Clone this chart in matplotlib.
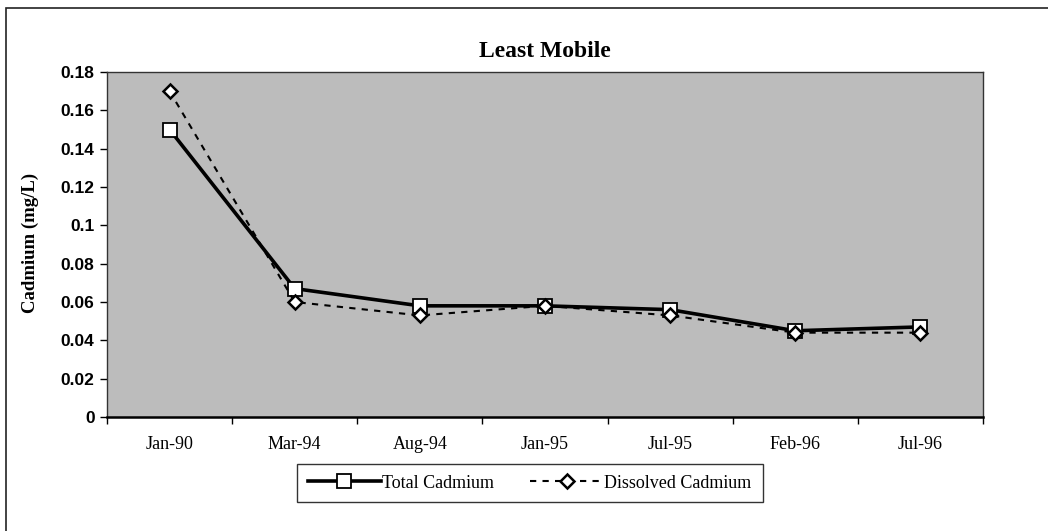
import matplotlib
matplotlib.use("Agg")
import matplotlib.pyplot as plt
from matplotlib.patches import Rectangle

categories = ["Jan-90", "Mar-94", "Aug-94", "Jan-95", "Jul-95", "Feb-96", "Jul-96"]
total_cd = [0.150, 0.067, 0.058, 0.058, 0.056, 0.045, 0.047]
dissolved_cd = [0.170, 0.060, 0.053, 0.058, 0.053, 0.044, 0.044]
yticks = [0, 0.02, 0.04, 0.06, 0.08, 0.1, 0.12, 0.14, 0.16, 0.18]
ytick_labels = ["0", "0.02", "0.04", "0.06", "0.08", "0.1", "0.12", "0.14", "0.16", "0.18"]

W, H = 1048, 531
fig = plt.figure(figsize=(W / 100, H / 100), dpi=100)
fig.patch.set_facecolor("white")

# outer frame
fig.patches.append(Rectangle((6 / W, -0.05), 1.2, 1 - 8 / H + 0.05,
                             transform=fig.transFigure, fill=False,
                             edgecolor="#222222", lw=1.2))

ax = fig.add_axes([107 / W, 1 - 417 / H, 876 / W, 345 / H])
ax.set_facecolor("#bcbcbc")

x = list(range(len(categories)))
ax.plot(x, total_cd, color="black", lw=2.6, marker="s", markersize=10,
        markerfacecolor="white", markeredgecolor="black", markeredgewidth=1.3,
        label="Total Cadmium", zorder=3)
ax.plot(x, dissolved_cd, color="black", lw=1.5, ls=(0, (3, 3)), marker="D",
        markersize=7.5, markerfacecolor="white", markeredgecolor="black",
        markeredgewidth=1.8, label="Dissolved Cadmium", zorder=4)

ax.set_xlim(-0.5, len(categories) - 0.5)
ax.set_ylim(0, 0.18)

ax.set_yticks(yticks)
ax.set_yticklabels(ytick_labels, fontfamily="Liberation Sans", fontweight="bold", fontsize=12.5)
ax.tick_params(axis="y", direction="out", length=5, width=1, pad=4)

ax.set_xticks([i + 0.5 for i in range(-1, len(categories))])
ax.set_xticklabels([])
ax.set_xticks(x, minor=True)
ax.set_xticklabels(categories, minor=True, fontfamily="Liberation Serif", fontsize=13)
ax.tick_params(axis="x", which="major", direction="out", length=5, width=1)
ax.tick_params(axis="x", which="minor", length=0, pad=14)

for s in ["top", "right", "left"]:
    ax.spines[s].set_color("#333333")
    ax.spines[s].set_linewidth(1.0)
ax.spines["bottom"].set_color("black")
ax.spines["bottom"].set_linewidth(1.8)

ax.set_title("Least Mobile", fontfamily="Liberation Serif", fontweight="bold",
             fontsize=17, pad=11)
fig.text(30 / W, 1 - 243 / H, "Cadmium (mg/L)", rotation=90, ha="center", va="center",
         fontfamily="Liberation Serif", fontweight="bold", fontsize=13.5)

leg = fig.legend(loc="center", bbox_to_anchor=(530 / W, 1 - 483 / H), ncol=2,
                 prop={"family": "Liberation Serif", "size": 13},
                 frameon=True, fancybox=False, edgecolor="black",
                 handlelength=4.0, handletextpad=0.1, columnspacing=2.0,
                 borderpad=0.6)
leg.get_frame().set_linewidth(1.0)

fig.savefig("out.png", dpi=100)
